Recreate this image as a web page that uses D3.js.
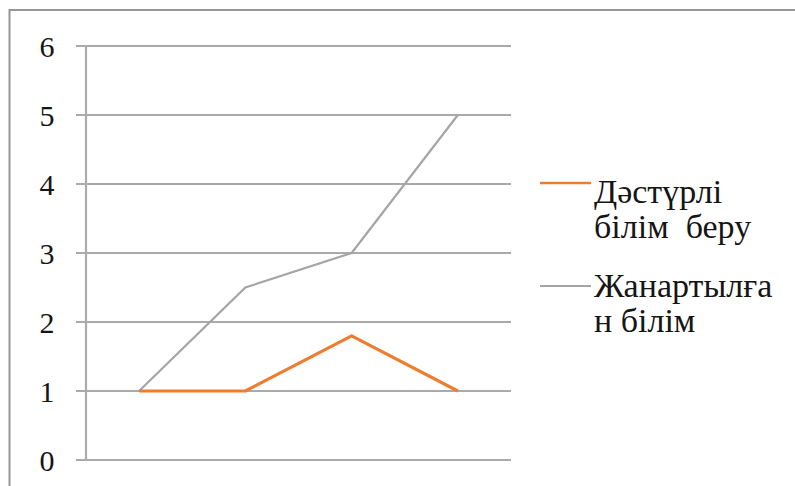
<!DOCTYPE html>
<html><head><meta charset="utf-8">
<script src="https://cdn.jsdelivr.net/npm/d3@7"></script>
<style>
html,body{margin:0;padding:0;background:#fff;}
svg{display:block;}
svg text, svg tspan{font-family:"Liberation Serif","Times New Roman",Tinos,serif !important;}
</style>
</head><body>
<svg id="c" width="795" height="486"></svg>
<script>
const categories = ["1", "2", "3", "4"];
const seriesNames = [["Дәстүрлі", "білім  беру"], ["Жанартылға", "н білім"]];
const traditional = [1, 1, 1.8, 1];
const updated = [1, 2.5, 3, 5];
const yTicks = [0, 1, 2, 3, 4, 5, 6];
const colors = ["#ED7D31", "#A5A5A5"];

(function () {
const FONT = '"Liberation Serif", "Times New Roman", Tinos, serif';
const svg = d3.select("#c").style("font-family", FONT, "important");
// outer frame
svg.append("rect").attr("x", 9.5).attr("y", 10).attr("width", 800).attr("height", 500)
  .attr("fill", "#fff").attr("stroke", "#969696").attr("stroke-width", 2);

const pL = 86, pR = 511, pT = 46, pB = 460;
const x = d3.scaleBand().domain(categories).range([pL, pR]);
const y = d3.scaleLinear().domain([0, 6]).range([pB, pT]);

// gridlines
svg.append("g").selectAll("line").data(yTicks).join("line")
  .attr("x1", pL - 10).attr("x2", pR)
  .attr("y1", d => y(d)).attr("y2", d => y(d))
  .attr("stroke", "#8e8e8e").attr("stroke-width", 1.6);

// y axis labels
const yAxis = d3.axisLeft(y).tickValues(yTicks).tickSize(0).tickPadding(0).tickFormat(d3.format("d"));
const ga = svg.append("g").attr("transform", `translate(${pL},0)`).call(yAxis)
  .attr("font-family", null).attr("font-size", null);
ga.select(".domain").remove();
ga.selectAll("text").attr("x", -39).attr("text-anchor", "middle")
  .style("font-family", FONT, "important").style("font-size", "30px")
  .attr("fill", "#151515").attr("dy", "0.34em");

// vertical axis line
svg.append("line").attr("x1", pL).attr("x2", pL).attr("y1", pT).attr("y2", pB + 1)
  .attr("stroke", "#ababab").attr("stroke-width", 2.2);

const line = d3.line().x((d, i) => x(categories[i]) + x.bandwidth() / 2).y(d => y(d));
svg.append("path").datum(updated).attr("d", line).attr("fill", "none")
  .attr("stroke", colors[1]).attr("stroke-width", 2.2);
svg.append("path").datum(traditional).attr("d", line).attr("fill", "none")
  .attr("stroke", colors[0]).attr("stroke-width", 3.2).attr("stroke-linejoin", "round");

// legend
const legY = [183, 286];
const baseY = [203, 297];
const leg = svg.append("g");
seriesNames.forEach((lines, i) => {
  leg.append("line").attr("x1", 540).attr("x2", 591).attr("y1", legY[i]).attr("y2", legY[i])
    .attr("stroke", colors[i]).attr("stroke-width", i === 0 ? 2.5 : 2);
  const t = leg.append("text").attr("x", 594).attr("y", baseY[i])
    .style("font-family", FONT, "important").style("font-size", "34px").attr("fill", "#151515")
    .style("white-space", "pre");
  lines.forEach((s, k) => {
    t.append("tspan").attr("x", 594).attr("dy", k === 0 ? 0 : 35)
      .style("font-family", FONT, "important").text(s);
  });
});
})();
</script>
</body></html>
